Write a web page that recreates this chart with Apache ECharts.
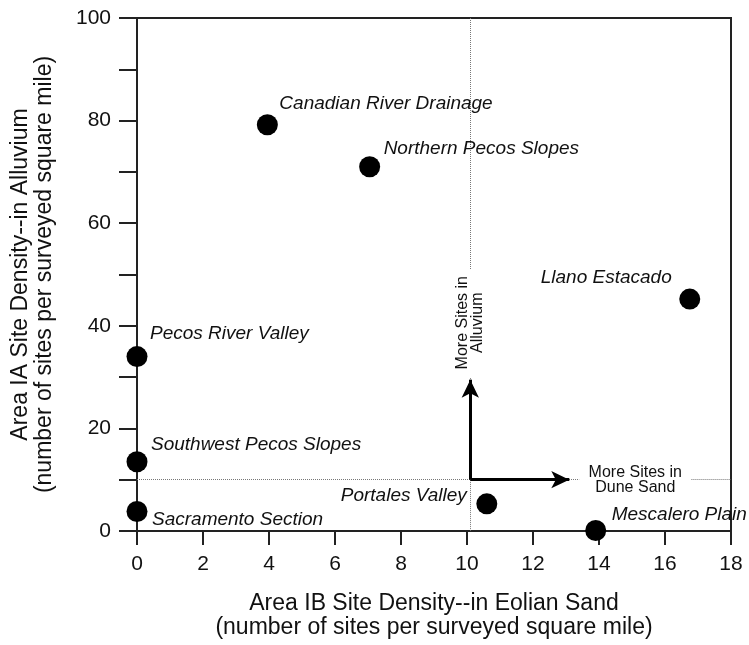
<!DOCTYPE html>
<html>
<head>
<meta charset="utf-8">
<script src="https://cdn.jsdelivr.net/npm/echarts@6/dist/echarts.min.js"></script>
<style>
  html, body { margin: 0; padding: 0; background: #fff; }
  #chart { width: 749px; height: 645px; }
</style>
</head>
<body>
<div id="chart"></div>
<script>
// Site densities by physiographic region
const regions = [
  'Canadian River Drainage',
  'Northern Pecos Slopes',
  'Llano Estacado',
  'Pecos River Valley',
  'Southwest Pecos Slopes',
  'Sacramento Section',
  'Portales Valley',
  'Mescalero Plain'
];
// Area IB density (eolian sand), sites per surveyed square mile
const eolianDensity = [3.95, 7.05, 16.75, 0, 0, 0, 10.6, 13.9];
// Area IA density (alluvium), sites per surveyed square mile
const alluviumDensity = [79.2, 71.0, 45.2, 34.0, 13.5, 3.8, 5.3, 0.1];

// Reference lines separating the two settings
const dividerX = 10.1;
const dividerY = 10;

const FONT = 'Liberation Sans, Arial, Helvetica, sans-serif';

// Label placement for each region name (align, offset from the marker centre)
const labelPlacement = [
  ['left', [12, -21]],
  ['left', [14, -18]],
  ['right', [-18, -21]],
  ['left', [13, -23]],
  ['left', [14, -17]],
  ['left', [15, 8]],
  ['right', [-20, -8]],
  ['left', [16, -16]]
];

const points = regions.map((name, i) => ({
  name: name,
  value: [eolianDensity[i], alluviumDensity[i]],
  label: {
    align: labelPlacement[i][0],
    offset: labelPlacement[i][1]
  }
}));

const chart = echarts.init(document.getElementById('chart'), null, { renderer: 'canvas' });

const axisColor = '#222';
const dotted = { color: '#777', type: 'dotted', width: 1 };

chart.setOption({
  animation: false,
  backgroundColor: '#fff',
  grid: {
    left: 137, right: 18, top: 18, bottom: 109,
    show: true, borderColor: axisColor, borderWidth: 2,
    containLabel: false
  },
  xAxis: {
    type: 'value', min: 0, max: 18, interval: 2,
    name: 'Area IB Site Density--in Eolian Sand\n(number of sites per surveyed square mile)',
    nameLocation: 'middle', nameGap: 61,
    nameTextStyle: { fontFamily: FONT, fontSize: 23, color: '#111', lineHeight: 24 },
    axisLine: { onZero: false, lineStyle: { color: axisColor, width: 2 } },
    axisTick: { show: true, length: 14, lineStyle: { color: axisColor, width: 2 } },
    axisLabel: { fontFamily: FONT, fontSize: 21, color: '#111', margin: 23 },
    splitLine: { show: false }
  },
  yAxis: {
    type: 'value', min: 0, max: 100, interval: 10,
    name: 'Area IA Site Density--in Alluvium\n(number of sites per surveyed square mile)',
    nameLocation: 'middle', nameGap: 80, nameRotate: 90,
    nameTextStyle: { fontFamily: FONT, fontSize: 23, color: '#111', lineHeight: 24 },
    axisLine: { onZero: false, lineStyle: { color: axisColor, width: 2 } },
    axisTick: { show: true, length: 18, lineStyle: { color: axisColor, width: 2 } },
    axisLabel: {
      fontFamily: FONT, fontSize: 21, color: '#111', margin: 26,
      formatter: v => (v % 20 === 0 ? String(v) : '')
    },
    splitLine: { show: false }
  },
  series: [
    {
      // dotted divider lines, broken where the annotations sit
      type: 'line',
      data: [],
      silent: true,
      markLine: {
        silent: true,
        symbol: ['none', 'none'],
        label: { show: false },
        lineStyle: dotted,
        emphasis: { disabled: true },
        data: [
          [{ coord: [dividerX, 100] }, { coord: [dividerX, 51] }],
          [{ coord: [dividerX, 29.8] }, { coord: [dividerX, 0] }],
          [{ coord: [0, dividerY] }, { coord: [13.4, dividerY] }],
          [{ coord: [16.8, dividerY] }, { coord: [18, dividerY] }]
        ]
      }
    },
    {
      // direction arrows
      type: 'line',
      data: [],
      silent: true,
      markLine: {
        silent: true,
        symbol: ['none', 'arrow'],
        symbolSize: [13, 18],
        label: { show: false },
        lineStyle: { color: '#000', type: 'solid', width: 3 },
        emphasis: { disabled: true },
        data: [
          [{ coord: [dividerX, dividerY] }, { coord: [dividerX, 29.5] }],
          [{ coord: [dividerX, dividerY] }, { coord: [13.1, dividerY] }]
        ]
      }
    },
    {
      type: 'scatter',
      data: points,
      symbol: 'circle',
      symbolSize: 21,
      itemStyle: { color: '#000', opacity: 1 },
      label: {
        show: true,
        position: 'inside',
        verticalAlign: 'middle',
        formatter: p => p.name,
        fontFamily: FONT,
        fontStyle: 'italic',
        fontSize: 19,
        color: '#111'
      },
      emphasis: { disabled: true },
      z: 5
    }
  ]
});

// Annotation text placed at data positions
const upText = chart.convertToPixel({ gridIndex: 0 }, [dividerX, 40.6]);
const rightText = chart.convertToPixel({ gridIndex: 0 }, [15.1, dividerY]);

chart.setOption({
  graphic: [
    {
      type: 'text',
      x: upText[0], y: upText[1],
      rotation: Math.PI / 2,
      style: {
        text: 'More Sites in\nAlluvium',
        fontFamily: FONT, fontSize: 16, lineHeight: 15,
        fill: '#111', align: 'center', verticalAlign: 'middle'
      },
      z: 10
    },
    {
      type: 'text',
      x: rightText[0], y: rightText[1],
      style: {
        text: 'More Sites in\nDune Sand',
        fontFamily: FONT, fontSize: 16, lineHeight: 15,
        fill: '#111', align: 'center', verticalAlign: 'middle'
      },
      z: 10
    }
  ]
});
</script>
</body>
</html>
